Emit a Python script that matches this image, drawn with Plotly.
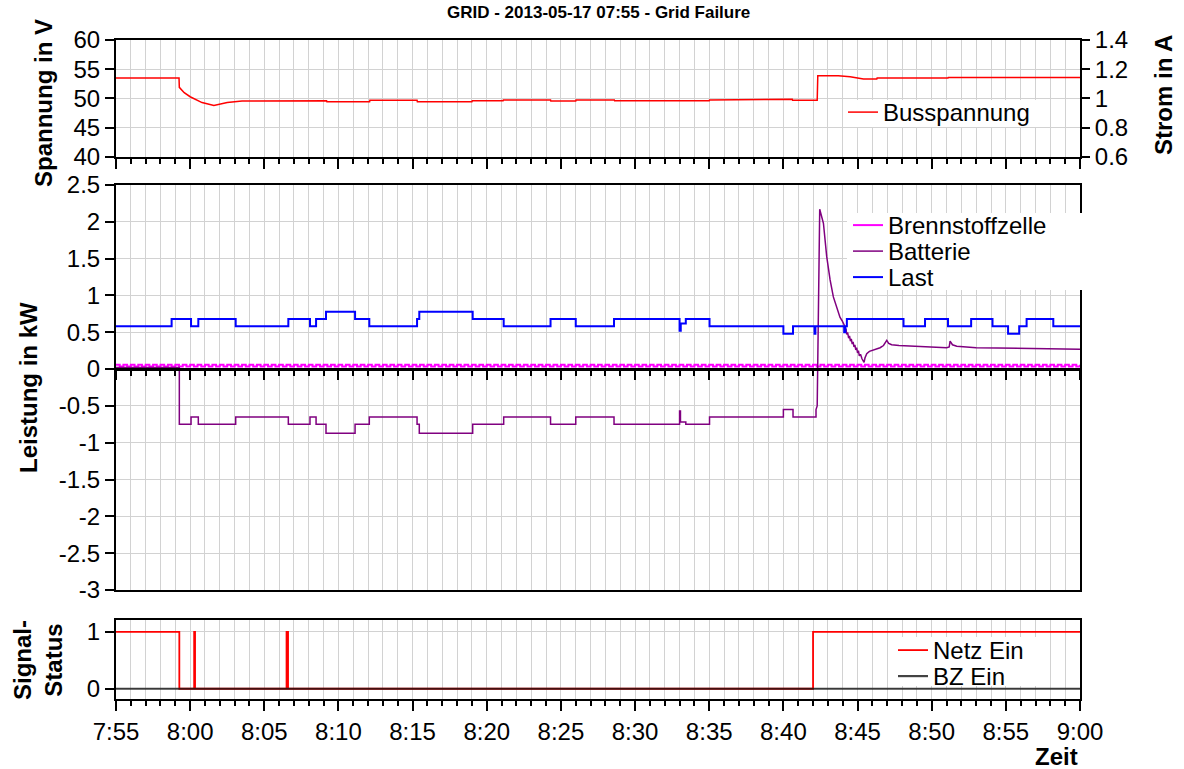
import pandas as pd
import plotly.graph_objects as go

# ---------------------------------------------------------------- data
# time axis: minutes after 07:55
T0 = pd.Timestamp("2013-05-17 07:55:00")
T_END = pd.Timestamp("2013-05-17 09:00:00")

# bus voltage (V)
bus_t = [0, 4.25, 4.27, 4.6, 5.0, 5.8, 6.6, 7.5, 8.5, 11.6, 14.2, 14.22, 17.1, 17.12,
         20.3, 20.32, 24.0, 24.02, 26.1, 26.12, 29.3, 29.32, 31.0, 31.02, 33.6, 33.62,
         40.0, 40.02, 45.0, 45.02, 45.6, 45.62, 47.28, 47.32, 48.7, 49.5, 50.4, 51.3,
         51.32, 56.1, 56.12, 65.0]
bus_v = [53.5, 53.5, 51.9, 51.0, 50.3, 49.3, 48.8, 49.3, 49.55, 49.6, 49.6, 49.45, 49.45, 49.7,
         49.7, 49.45, 49.45, 49.6, 49.6, 49.75, 49.75, 49.55, 49.55, 49.75, 49.75, 49.6,
         49.6, 49.75, 49.75, 49.85, 49.85, 49.7, 49.7, 53.9, 53.9, 53.7, 53.35, 53.35,
         53.5, 53.5, 53.6, 53.6]

# load (kW), value held until the next change
last_t = [0, 3.75, 5.06, 5.55, 8.07, 11.62, 13.08, 13.49, 14.16, 16.12, 17.08, 20.3, 20.45,
          24.05, 26.14, 29.3, 31.0, 33.58, 38.0, 38.08, 38.42, 40.02, 45.0, 45.65, 47.1,
          47.16, 49.1, 49.18, 49.28, 53.1, 54.55, 56.1, 57.66, 59.1, 60.15, 60.9, 61.4,
          63.2, 65.0]
last_kw = [0.58, 0.68, 0.58, 0.68, 0.58, 0.68, 0.58, 0.68, 0.78, 0.68, 0.58, 0.68, 0.78,
           0.68, 0.58, 0.68, 0.58, 0.68, 0.52, 0.62, 0.68, 0.58, 0.48, 0.58, 0.48,
           0.58, 0.50, 0.58, 0.68, 0.58, 0.68, 0.58, 0.68, 0.58, 0.48, 0.58, 0.68,
           0.58, 0.58]

# battery (kW): stepped part while in island mode ...
bat_step_t = [0, 4.27, 5.06, 5.55, 8.07, 11.62, 13.08, 13.49, 14.16, 16.12, 17.08, 20.3,
              20.45, 24.05, 26.14, 29.3, 31.0, 33.58, 38.0, 38.06, 38.42, 40.02, 45.0,
              45.65, 47.2]
bat_step_kw = [0.02, -0.75, -0.65, -0.75, -0.65, -0.75, -0.65, -0.75, -0.87, -0.75, -0.65,
               -0.75, -0.87, -0.75, -0.65, -0.75, -0.65, -0.75, -0.57, -0.72, -0.75, -0.65,
               -0.55, -0.65, -0.55]
# ... and the recharge peak after the grid returns
bat_peak_t = [47.28, 47.45, 47.7, 47.92, 48.15, 48.37, 48.6, 48.82, 48.95, 49.04, 49.1,
              49.16, 49.22, 49.27, 49.33, 49.4, 49.46, 49.52, 49.58, 49.64, 49.7, 49.76,
              49.82, 49.88, 49.94, 50.0, 50.06, 50.12, 50.2, 50.3, 50.44, 50.5, 50.62,
              50.8, 51.07, 51.3, 51.52, 51.75, 51.9, 51.97, 52.1, 52.3, 52.8, 53.76, 55.0,
              56.01, 56.18, 56.24, 56.4, 56.69, 58.0, 60.51, 62.5, 65.0]
bat_peak_kw = [-0.5, 2.17, 1.98, 1.53, 1.21, 0.98, 0.83, 0.7, 0.66, 0.62, 0.6,
               0.52, 0.55, 0.47, 0.5, 0.42, 0.45, 0.38, 0.41, 0.34, 0.37, 0.3,
               0.33, 0.26, 0.29, 0.22, 0.25, 0.18, 0.2, 0.14, 0.09, 0.15, 0.21,
               0.24, 0.26, 0.28, 0.29, 0.32, 0.36, 0.39, 0.35, 0.33, 0.32, 0.31, 0.3,
               0.29, 0.3, 0.38, 0.33, 0.31, 0.29, 0.28, 0.27, 0.27]

# fuel cell (kW), sampled every 15 s
bz_step_min = 0.25
bz_kw = [
    0.06, 0.035, 0.06, 0.035, 0.06, 0.035, 0.06, 0.035, 0.06, 0.035, 0.06, 0.035, 0.06, 0.035, 0.06, 0.035, 0.06, 0.035, 0.06, 0.035,
    0.06, 0.035, 0.06, 0.035, 0.06, 0.035, 0.06, 0.035, 0.06, 0.035, 0.06, 0.035, 0.06, 0.035, 0.06, 0.035, 0.06, 0.035, 0.06, 0.035,
    0.06, 0.035, 0.06, 0.035, 0.06, 0.035, 0.06, 0.035, 0.06, 0.035, 0.06, 0.035, 0.06, 0.035, 0.06, 0.035, 0.06, 0.035, 0.06, 0.035,
    0.06, 0.035, 0.06, 0.035, 0.06, 0.035, 0.06, 0.035, 0.06, 0.035, 0.06, 0.035, 0.06, 0.035, 0.06, 0.035, 0.06, 0.035, 0.06, 0.035,
    0.06, 0.035, 0.06, 0.035, 0.06, 0.035, 0.06, 0.035, 0.06, 0.035, 0.06, 0.035, 0.06, 0.035, 0.06, 0.035, 0.06, 0.035, 0.06, 0.035,
    0.06, 0.035, 0.06, 0.035, 0.06, 0.035, 0.06, 0.035, 0.06, 0.035, 0.06, 0.035, 0.06, 0.035, 0.06, 0.035, 0.06, 0.035, 0.06, 0.035,
    0.06, 0.035, 0.06, 0.035, 0.06, 0.035, 0.06, 0.035, 0.06, 0.035, 0.06, 0.035, 0.06, 0.035, 0.06, 0.035, 0.06, 0.035, 0.06, 0.035,
    0.06, 0.035, 0.06, 0.035, 0.06, 0.035, 0.06, 0.035, 0.06, 0.035, 0.06, 0.035, 0.06, 0.035, 0.06, 0.035, 0.06, 0.035, 0.06, 0.035,
    0.06, 0.035, 0.06, 0.035, 0.06, 0.035, 0.06, 0.035, 0.06, 0.035, 0.06, 0.035, 0.06, 0.035, 0.06, 0.035, 0.06, 0.035, 0.06, 0.035,
    0.06, 0.035, 0.06, 0.035, 0.06, 0.035, 0.06, 0.035, 0.06, 0.035, 0.06, 0.035, 0.06, 0.035, 0.06, 0.035, 0.06, 0.035, 0.06, 0.035,
    0.06, 0.035, 0.06, 0.035, 0.06, 0.035, 0.06, 0.035, 0.06, 0.035, 0.06, 0.035, 0.06, 0.035, 0.06, 0.035, 0.06, 0.035, 0.06, 0.035,
    0.06, 0.035, 0.06, 0.035, 0.06, 0.035, 0.06, 0.035, 0.06, 0.035, 0.06, 0.035, 0.06, 0.035, 0.06, 0.035, 0.06, 0.035, 0.06, 0.035,
    0.06, 0.035, 0.06, 0.035, 0.06, 0.035, 0.06, 0.035, 0.06, 0.035, 0.06, 0.035, 0.06, 0.035, 0.06, 0.035, 0.06, 0.035, 0.06, 0.035,
    0.06,
]

# status signals (0/1), held until the next change
netz_t = [0, 4.27, 5.27, 5.33, 11.5, 11.6, 47.0, 65.0]
netz_on = [1, 0, 1, 0, 1, 0, 1, 1]
bz_ein_t = [0, 65.0]
bz_ein_on = [0, 0]

# axis ticks
v_ticks = [40, 45, 50, 55, 60]
i_ticks = [0.6, 0.8, 1.0, 1.2, 1.4]
i_labels = ["0.6", "0.8", "1", "1.2", "1.4"]
p_ticks = [-3, -2.5, -2, -1.5, -1, -0.5, 0, 0.5, 1, 1.5, 2, 2.5]
p_labels = ["-3", "-2.5", "-2", "-1.5", "-1", "-0.5", "0", "0.5", "1", "1.5", "2", "2.5"]
s_ticks = [0, 1]

# ---------------------------------------------------------------- helpers
def at(minutes):
    return [T0 + pd.Timedelta(minutes=m) for m in minutes]


def step_corners(t, v):
    xs, ys = [], []
    for i, (ti, vi) in enumerate(zip(t, v)):
        if i:
            xs.append(ti)
            ys.append(v[i - 1])
        xs.append(ti)
        ys.append(vi)
    return xs, ys


def px_x(px):
    return (px - 116) / 964


def px_y(py):
    return (699 - py) / 659


bat_x, bat_y = step_corners(bat_step_t, bat_step_kw)
bat_x += bat_peak_t
bat_y += bat_peak_kw
bz_t = [i * bz_step_min for i in range(len(bz_kw))]

FONT = "Liberation Sans, Arial, sans-serif"
GRID = "#d2d2d2"
TICK_FONT = dict(family=FONT, size=24, color="black")
LEG_FONT = dict(family=FONT, size=24, color="black")

# ---------------------------------------------------------------- traces
fig = go.Figure()

fig.add_trace(go.Scatter(x=at(bus_t), y=bus_v, mode="lines", name="Busspannung",
                         line=dict(color="#ff0000", width=1.5),
                         xaxis="x3", yaxis="y3", legend="legend"))
# empty trace that carries the current axis on the right
fig.add_trace(go.Scatter(x=[], y=[], mode="lines", showlegend=False, hoverinfo="skip",
                         xaxis="x3", yaxis="y4"))

fig.add_trace(go.Scatter(x=at(bz_t), y=bz_kw, mode="lines", name="Brennstoffzelle",
                         line=dict(color="#ff00ff", width=2, shape="hv"),
                         xaxis="x2", yaxis="y2", legend="legend2"))
fig.add_trace(go.Scatter(x=at(bat_x), y=bat_y, mode="lines", name="Batterie",
                         line=dict(color="#800080", width=1.5),
                         xaxis="x2", yaxis="y2", legend="legend3"))
fig.add_trace(go.Scatter(x=at(last_t), y=last_kw, mode="lines", name="Last",
                         line=dict(color="#0000ff", width=2, shape="hv"),
                         xaxis="x4", yaxis="y2", legend="legend4"))

fig.add_trace(go.Scatter(x=at(netz_t), y=netz_on, mode="lines", name="Netz Ein",
                         line=dict(color="#ff0000", width=1.8, shape="hv"),
                         xaxis="x", yaxis="y", legend="legend5"))
fig.add_trace(go.Scatter(x=at(bz_ein_t), y=bz_ein_on, mode="lines", name="BZ Ein",
                         line=dict(color="#141414", width=2.2, shape="hv"),
                         opacity=0.8, xaxis="x", yaxis="y", legend="legend6"))

# ---------------------------------------------------------------- layout
x_range = [T0, T_END]
minor_x = dict(dtick=60000, tick0=T0, showgrid=True, gridcolor=GRID, gridwidth=1)
common_x = dict(type="date", range=x_range, tick0=T0, dtick=300000,
                showgrid=True, gridcolor=GRID, gridwidth=1,
                showline=True, linecolor="black", linewidth=2, mirror=True,
                zeroline=False)
common_y = dict(showline=True, linecolor="black", linewidth=2, mirror=True,
                ticks="outside", ticklen=9, tickwidth=2, tickcolor="black",
                showgrid=True, gridcolor=GRID, gridwidth=1, zeroline=False,
                tickfont=TICK_FONT)

D_BOT = [0.0, 0.1199]
D_MID = [0.1654, 0.78]
D_TOP = [0.8225, 1.0]
ZERO_POS = 0.5008


def legend_at(left_px, top_px):
    return dict(x=px_x(left_px), y=px_y(top_px), xanchor="left", yanchor="top",
                bgcolor="rgba(0,0,0,0)", borderwidth=0, font=LEG_FONT)


def legend_box(x0, y0, x1, y1):
    # white panel behind a legend block
    return dict(type="rect", xref="paper", yref="paper", layer="above",
                x0=px_x(x0), x1=px_x(x1), y0=px_y(y1), y1=px_y(y0),
                fillcolor="white", line=dict(width=0))


fig.update_layout(
    width=1184, height=769,
    margin=dict(l=116, r=104, t=40, b=70),
    paper_bgcolor="white", plot_bgcolor="white",
    font=dict(family=FONT, color="black"),
    showlegend=True,
    xaxis=dict(**common_x, anchor="y", domain=[0, 1],
               ticks="outside", ticklen=10, tickwidth=2, tickcolor="black",
               tickformat="%-H:%M", tickfont=TICK_FONT,
               minor=dict(**minor_x, ticks="outside", ticklen=5, tickwidth=1.5,
                          tickcolor="black")),
    yaxis=dict(**common_y, domain=D_BOT, range=[-0.18, 1.21], tickvals=s_ticks,
               ticktext=["0", "1"]),
    xaxis2=dict(**common_x, anchor="y2", ticks="", showticklabels=False,
                minor=minor_x),
    yaxis2=dict(**common_y, domain=D_MID, range=[-3, 2.5], tickvals=p_ticks,
                ticktext=p_labels),
    xaxis3=dict(**common_x, anchor="y3", showticklabels=False,
                ticks="outside", ticklen=10, tickwidth=2, tickcolor="black",
                minor=dict(**minor_x, ticks="outside", ticklen=5, tickwidth=1.5,
                           tickcolor="black")),
    yaxis3=dict(**common_y, domain=D_TOP, range=[40, 60], tickvals=v_ticks),
    # x axis drawn along the zero line of the power panel
    xaxis4=dict(type="date", range=x_range, tick0=T0, dtick=300000,
                overlaying="x2", anchor="free", position=ZERO_POS, side="bottom",
                showline=True, linecolor="black", linewidth=2.5,
                ticks="outside", ticklen=9, tickwidth=2, tickcolor="black",
                showticklabels=False, showgrid=False, zeroline=False,
                minor=dict(dtick=60000, tick0=T0, ticks="outside", ticklen=5,
                           tickwidth=1.5, tickcolor="black", showgrid=False)),
    # current axis on the right of the voltage panel
    yaxis4=dict(overlaying="y3", anchor="x3", side="right", range=[0.6, 1.4],
                tickvals=i_ticks, ticktext=i_labels, ticks="outside", ticklen=9,
                tickwidth=2, tickcolor="black", showgrid=False, showline=False,
                zeroline=False, tickfont=TICK_FONT),
    legend=legend_at(843, 90),
    legend2=legend_at(848, 203),
    legend3=legend_at(848, 229),
    legend4=legend_at(848, 255),
    legend5=legend_at(893, 628),
    legend6=legend_at(893, 654),
    shapes=[legend_box(843, 100, 1040, 127),
            legend_box(847, 213, 1082, 290),
            legend_box(893, 637, 1038, 686)],
)

TITLE_FONT = dict(family=FONT, size=24, color="black")
annotations = [
    dict(text="<b>GRID - 2013-05-17 07:55 - Grid Failure</b>", x=0.5, y=px_y(1),
         xanchor="center", yanchor="top", font=dict(family=FONT, size=17, color="black")),
    dict(text="<b>Spannung in V</b>", x=px_x(43), y=px_y(103), textangle=-90,
         xanchor="center", yanchor="middle", font=TITLE_FONT),
    dict(text="<b>Leistung in kW</b>", x=px_x(28), y=px_y(388), textangle=-90,
         xanchor="center", yanchor="middle", font=TITLE_FONT),
    dict(text="<b>Signal-<br>Status</b>", x=px_x(38), y=px_y(660), textangle=-90,
         xanchor="center", yanchor="middle", font=TITLE_FONT),
    dict(text="<b>Strom in A</b>", x=px_x(1163), y=px_y(95), textangle=-90,
         xanchor="center", yanchor="middle", font=TITLE_FONT),
    dict(text="<b>Zeit</b>", x=1.0, y=px_y(757), xanchor="right", yanchor="middle",
         font=TITLE_FONT),
]
for a in annotations:
    a.update(xref="paper", yref="paper", showarrow=False)
fig.update_layout(annotations=annotations)

fig.write_html("out.html")
